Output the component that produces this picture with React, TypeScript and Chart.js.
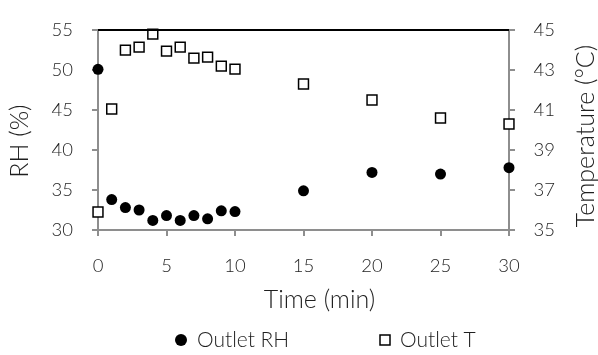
import React, { useEffect, useRef } from "react";
import { Chart, registerables } from "chart.js";

Chart.register(...registerables);

const times = [0, 1, 2, 3, 4, 5, 6, 7, 8, 9, 10, 15, 20, 25, 30];
const outletRH = [50.1, 33.8, 32.8, 32.5, 31.2, 31.8, 31.2, 31.8, 31.4, 32.4, 32.3, 34.9, 37.2, 37.0, 37.8];
const outletT = [35.9, 41.05, 44.0, 44.15, 44.8, 43.95, 44.15, 43.6, 43.65, 43.2, 43.05, 42.3, 41.5, 40.6, 40.3];
const seriesNames = ["Outlet RH", "Outlet T"];
const xTitle = "Time (min)";
const yLeftTitle = "RH (%)";
const yRightTitle = "Temperature (°C)";

const FONT = "Lato";
const W = 300;
const TEXT = "#1f1f1f";
const AXIS = "#8e8e8e";

export default function App() {
  const ref = useRef<HTMLCanvasElement | null>(null);

  useEffect(() => {
    document.body.style.margin = "0";
    const canvas = ref.current;
    if (!canvas) return;

    const decor = {
      id: "decor",
      afterDraw(chart: any) {
        const { ctx, chartArea } = chart;
        ctx.save();
        // top border
        ctx.strokeStyle = "#000";
        ctx.lineWidth = 2;
        ctx.beginPath();
        ctx.moveTo(chartArea.left, chartArea.top);
        ctx.lineTo(chartArea.right, chartArea.top);
        ctx.stroke();

        ctx.fillStyle = TEXT;
        ctx.font = `${W} 25px ${FONT}`;
        ctx.textAlign = "center";
        ctx.textBaseline = "middle";
        const midY = (chartArea.top + chartArea.bottom) / 2;
        const midX = (chartArea.left + chartArea.right) / 2;
        // x title
        ctx.fillText(xTitle, midX + 16, chartArea.bottom + 70);
        // left title
        ctx.save();
        ctx.translate(19.5, midY + 11);
        ctx.rotate(-Math.PI / 2);
        ctx.fillText(yLeftTitle, 0, 0);
        ctx.restore();
        // right title
        ctx.save();
        ctx.translate(586, midY + 6);
        ctx.rotate(-Math.PI / 2);
        ctx.fillText(yRightTitle, 0, 0);
        ctx.restore();

        // legend
        const ly = 340;
        ctx.font = `${W} 21px ${FONT}`;
        ctx.textAlign = "left";
        ctx.fillStyle = "#000";
        ctx.beginPath();
        ctx.arc(181, ly, 6, 0, Math.PI * 2);
        ctx.fill();
        ctx.fillStyle = TEXT;
        ctx.fillText(seriesNames[0], 197, ly);
        ctx.fillStyle = "#fff";
        ctx.strokeStyle = "#000";
        ctx.lineWidth = 1.5;
        ctx.beginPath();
        ctx.rect(380, ly - 5, 10, 10);
        ctx.fill();
        ctx.stroke();
        ctx.fillStyle = TEXT;
        ctx.fillText(seriesNames[1], 400, ly);
        ctx.restore();
      },
    };

    const tickFont = { family: FONT, size: 18.5, weight: W as any };
    const grid = { drawOnChartArea: false, tickLength: 6, color: AXIS, lineWidth: 2 };
    const border = { color: AXIS, width: 2 };

    const chart = new Chart(canvas, {
      type: "scatter",
      data: {
        datasets: [
          {
            label: seriesNames[0],
            data: times.map((t, i) => ({ x: t, y: outletRH[i] })),
            yAxisID: "y",
            pointStyle: "circle",
            pointRadius: 5.5,
            pointBackgroundColor: "#000",
            pointBorderColor: "#000",
            pointBorderWidth: 0,
            clip: false as any,
          },
          {
            label: seriesNames[1],
            data: times.map((t, i) => ({ x: t, y: outletT[i] })),
            yAxisID: "y2",
            pointStyle: "rect",
            pointRadius: 7,
            pointBackgroundColor: "#fff",
            pointBorderColor: "#000",
            pointBorderWidth: 1.5,
            clip: false as any,
          },
        ],
      },
      options: {
        animation: false,
        responsive: false,
        layout: { padding: { top: 15, left: 0, right: 0, bottom: 0 } },
        plugins: { legend: { display: false }, tooltip: { enabled: false } },
        scales: {
          x: {
            type: "linear",
            min: 0,
            max: 30,
            ticks: { stepSize: 5, color: TEXT, font: tickFont, padding: 19 },
            grid,
            border,
            afterFit(scale: any) {
              scale.height = 125;
            },
          },
          y: {
            position: "left",
            min: 30,
            max: 55,
            ticks: { stepSize: 5, color: TEXT, font: tickFont, padding: 19 },
            grid,
            border,
            afterFit(scale: any) {
              scale.width = 98;
            },
          },
          y2: {
            position: "right",
            min: 35,
            max: 45,
            ticks: { stepSize: 2, color: TEXT, font: tickFont, padding: 18.5 },
            grid,
            border,
            afterFit(scale: any) {
              scale.width = 89;
            },
          },
        },
      },
      plugins: [decor],
    });

    return () => chart.destroy();
  }, []);

  return (
    <div style={{ width: 598, height: 355, background: "#fff" }}>
      <canvas ref={ref} width={598} height={355} style={{ display: "block" }} />
    </div>
  );
}
